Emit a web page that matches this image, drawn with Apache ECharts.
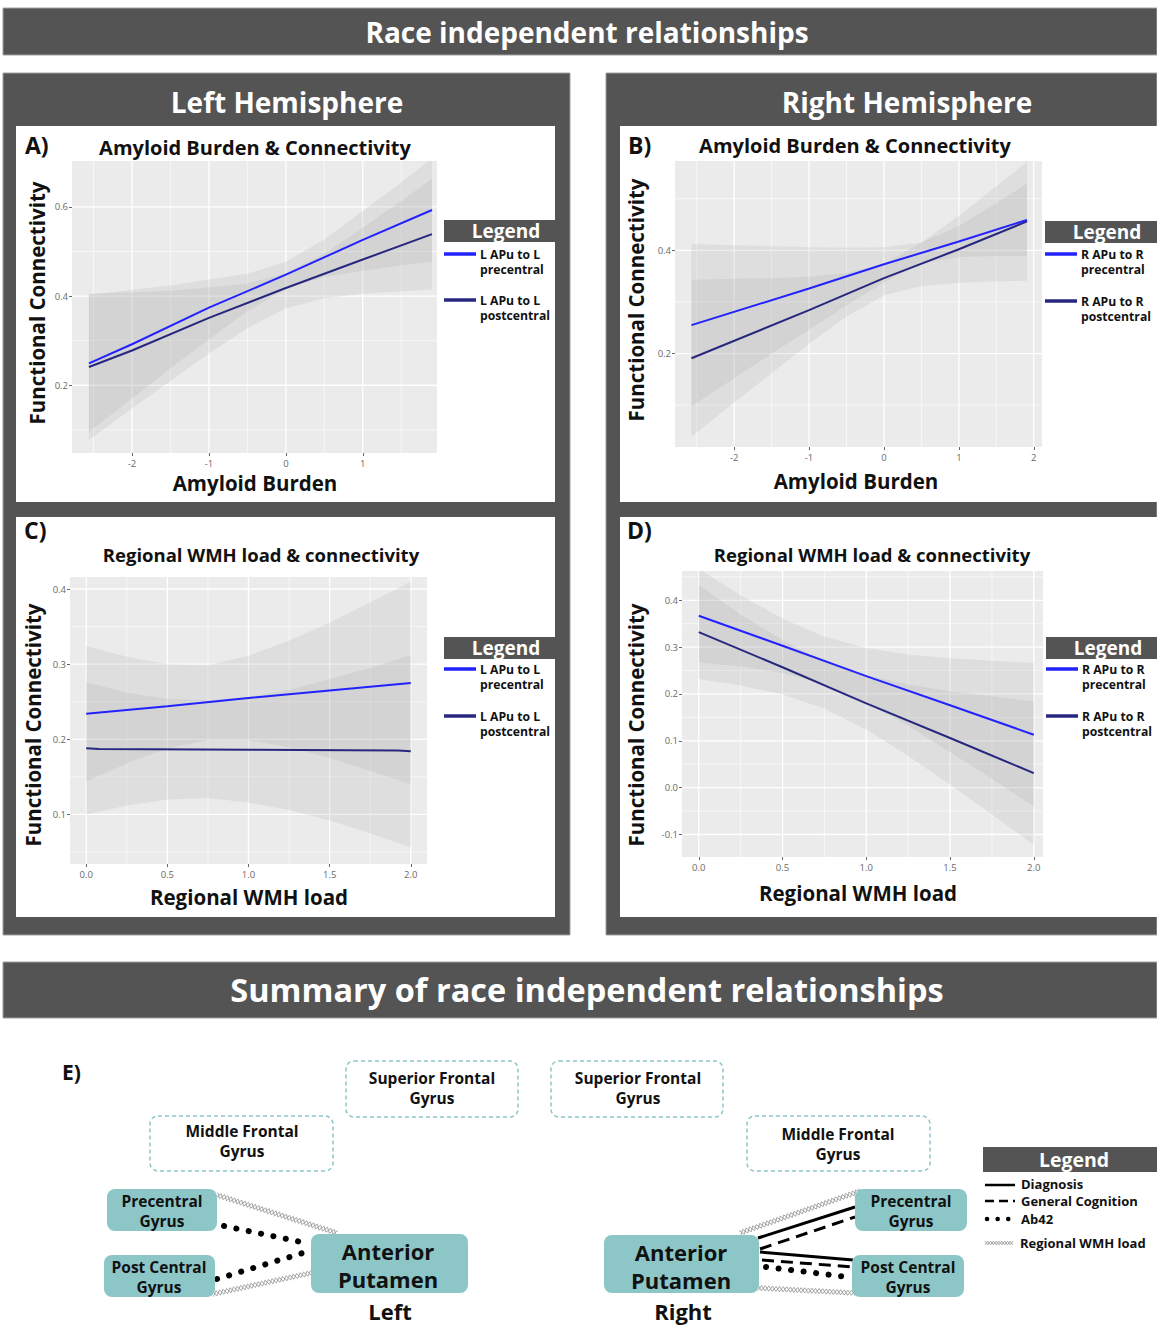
<!DOCTYPE html>
<html><head><meta charset="utf-8">
<script src="https://cdn.jsdelivr.net/npm/echarts@6/dist/echarts.min.js"></script>
<style>html,body{margin:0;padding:0;background:#fff}#c{width:1157px;height:1326px}</style>
</head><body><div id="c"></div>
<script>
// ---------------- DATA ----------------
// Panel A: Left hemisphere, amyloid burden
const aLineX = [-2.56, -2, -1, 0, 1, 1.9];
const aPre   = [0.249, 0.292, 0.374, 0.448, 0.526, 0.593];
const aPost  = [0.241, 0.278, 0.351, 0.418, 0.482, 0.539];
const aBandX = [-2.56, -2, -1.5, -1, -0.5, 0, 0.5, 1, 1.5, 1.9];
const aPreLo = [0.095, 0.170, 0.238, 0.303, 0.366, 0.417, 0.443, 0.457, 0.469, 0.477];
const aPreHi = [0.403, 0.414, 0.424, 0.437, 0.450, 0.477, 0.527, 0.591, 0.655, 0.709];
const aPostLo = [0.077, 0.148, 0.210, 0.271, 0.328, 0.372, 0.395, 0.405, 0.411, 0.415];
const aPostHi = [0.405, 0.408, 0.412, 0.419, 0.428, 0.452, 0.495, 0.553, 0.613, 0.663];
const aXTicks = [-2, -1, 0, 1];
const aYTicks = [0.2, 0.4, 0.6];
const aXMinor = [-2.5, -1.5, -0.5, 0.5, 1.5];
const aYMinor = [0.1, 0.3, 0.5];

// Panel B: Right hemisphere, amyloid burden
const bLineX = [-2.57, -1, 0, 1, 1.91];
const bPre   = [0.255, 0.326, 0.373, 0.417, 0.459];
const bPost  = [0.191, 0.284, 0.346, 0.402, 0.456];
const bBandX = [-2.57, -2, -1.5, -1, -0.5, 0, 0.5, 1, 1.5, 1.91];
const bPreLo = [0.098, 0.152, 0.200, 0.246, 0.293, 0.338, 0.375, 0.387, 0.389, 0.389];
const bPreHi = [0.412, 0.410, 0.408, 0.406, 0.405, 0.406, 0.415, 0.447, 0.491, 0.529];
const bPostLo = [0.039, 0.105, 0.162, 0.219, 0.272, 0.313, 0.331, 0.337, 0.340, 0.341];
const bPostHi = [0.343, 0.345, 0.346, 0.349, 0.356, 0.373, 0.415, 0.467, 0.524, 0.571];
const bXTicks = [-2, -1, 0, 1, 2];
const bYTicks = [0.2, 0.4];
const bXMinor = [-2.5, -1.5, -0.5, 0.5, 1.5];
const bYMinor = [0.1, 0.3, 0.5];

// Panel C: Left hemisphere, regional WMH load
const cPreX  = [0, 0.5, 1, 1.5, 2];
const cPre   = [0.234, 0.244, 0.255, 0.265, 0.275];
const cPostX = [0, 0.08, 1.0, 1.92, 2.0];
const cPost  = [0.188, 0.187, 0.186, 0.185, 0.184];
const cBandX = [0, 0.25, 0.5, 0.75, 1, 1.25, 1.5, 1.75, 2];
const cPreLo = [0.144, 0.168, 0.188, 0.199, 0.199, 0.189, 0.175, 0.158, 0.140];
const cPreHi = [0.324, 0.310, 0.300, 0.299, 0.311, 0.331, 0.355, 0.382, 0.410];
const cPostLo = [0.100, 0.112, 0.120, 0.122, 0.116, 0.106, 0.092, 0.075, 0.056];
const cPostHi = [0.276, 0.262, 0.254, 0.252, 0.256, 0.266, 0.280, 0.295, 0.312];
const cXTicks = [0, 0.5, 1, 1.5, 2];
const cYTicks = [0.1, 0.2, 0.3, 0.4];
const cXMinor = [0.25, 0.75, 1.25, 1.75];
const cYMinor = [0.05, 0.15, 0.25, 0.35];

// Panel D: Right hemisphere, regional WMH load
const dLineX = [0, 0.5, 1, 1.5, 2];
const dPre   = [0.367, 0.303, 0.238, 0.176, 0.113];
const dPost  = [0.332, 0.257, 0.180, 0.106, 0.031];
const dBandX = [0, 0.25, 0.5, 0.75, 1, 1.25, 1.5, 1.75, 2];
const dPreLo = [0.267, 0.259, 0.245, 0.222, 0.182, 0.132, 0.076, 0.019, -0.040];
const dPreHi = [0.467, 0.411, 0.361, 0.322, 0.298, 0.284, 0.276, 0.271, 0.266];
const dPostLo = [0.232, 0.218, 0.199, 0.169, 0.124, 0.068, 0.006, -0.057, -0.122];
const dPostHi = [0.432, 0.370, 0.315, 0.269, 0.240, 0.220, 0.206, 0.195, 0.184];
const dXTicks = [0, 0.5, 1, 1.5, 2];
const dYTicks = [-0.1, 0, 0.1, 0.2, 0.3, 0.4];
const dXMinor = [0.25, 0.75, 1.25, 1.75];
const dYMinor = [-0.05, 0.05, 0.15, 0.25, 0.35, 0.45];

// Legend labels
const leftLegend  = [['L APu to L', 'precentral'], ['L APu to L', 'postcentral']];
const rightLegend = [['R APu to R', 'precentral'], ['R APu to R', 'postcentral']];
const summaryLegend = ['Diagnosis', 'General Cognition', 'Ab42', 'Regional WMH load'];

// ---------------- STYLE ----------------
const FONT = '"Open Sans", Lato, sans-serif';
const BLUE = '#2222ff', NAVY = '#27277f';
const DARK = '#545454', TEAL = '#8cc6c7', INK = '#111';
const BAND = 'rgba(150,150,150,0.15)';

const chart = echarts.init(document.getElementById('c'), null, {renderer: 'svg', width: 1157, height: 1326});

const grids = [], xAxes = [], yAxes = [], series = [];
function zip(x, y) { return x.map((v, i) => [v, y[i]]); }

function addPanel(p) {
  const i = grids.length;
  grids.push(Object.assign({show: true, backgroundColor: '#EBEBEB', borderWidth: 0, z: 1}, p.grid));
  const lab = {color: '#6a6a6a', fontSize: 9.5, fontFamily: FONT};
  xAxes.push({type: 'value', gridIndex: i, min: p.xMin, max: p.xMax, z: 3,
    axisLine: {show: false, onZero: false},
    axisTick: {show: true, length: 3, lineStyle: {color: '#666'}, customValues: p.xTicks},
    axisLabel: Object.assign({customValues: p.xTicks, margin: 5, formatter: p.fx}, lab),
    splitLine: {show: false}});
  yAxes.push({type: 'value', gridIndex: i, min: p.yMin, max: p.yMax, z: 3,
    axisLine: {show: false, onZero: false},
    axisTick: {show: true, length: 3, lineStyle: {color: '#666'}, customValues: p.yTicks},
    axisLabel: Object.assign({customValues: p.yTicks, margin: 4, formatter: p.fy}, lab),
    splitLine: {show: false}});
  // grid lines (major at ticks, minor between)
  const gl = [];
  p.xTicks.forEach(v => gl.push([v, 0, 1]));
  p.xMinor.forEach(v => gl.push([v, 0, 0]));
  p.yTicks.forEach(v => gl.push([v, 1, 1]));
  p.yMinor.forEach(v => gl.push([v, 1, 0]));
  series.push({type: 'custom', xAxisIndex: i, yAxisIndex: i, z: 2, silent: true, clip: true,
    data: gl,
    renderItem(params, api) {
      const cs = params.coordSys, v = api.value(0), dir = api.value(1), maj = api.value(2);
      let shape;
      if (dir === 0) { const x = api.coord([v, p.yMin])[0]; shape = {x1: x, y1: cs.y, x2: x, y2: cs.y + cs.height}; }
      else { const y = api.coord([p.xMin, v])[1]; shape = {x1: cs.x, y1: y, x2: cs.x + cs.width, y2: y}; }
      return {type: 'line', shape, style: {stroke: '#fff', lineWidth: maj ? 1.3 : 0.6}};
    }});
  // confidence bands
  [[p.preLo, p.preHi], [p.postLo, p.postHi]].forEach(([lo, hi]) => {
    series.push({type: 'custom', xAxisIndex: i, yAxisIndex: i, z: 3, silent: true, clip: true,
      data: p.bandX.map((x, k) => [x, lo[k], hi[k]]),
      renderItem(params, api) {
        if (params.dataIndexInside !== 0) return null;
        const n = params.dataInsideLength, pts = [];
        for (let k = 0; k < n; k++) pts.push(api.coord([api.value(0, k), api.value(2, k)]));
        for (let k = n - 1; k >= 0; k--) pts.push(api.coord([api.value(0, k), api.value(1, k)]));
        return {type: 'polygon', shape: {points: pts}, style: {fill: BAND}};
      }});
  });
  series.push({type: 'line', xAxisIndex: i, yAxisIndex: i, z: 4, silent: true, showSymbol: false, symbol: 'none',
    data: zip(p.postX, p.post), lineStyle: {color: NAVY, width: 2}});
  series.push({type: 'line', xAxisIndex: i, yAxisIndex: i, z: 5, silent: true, showSymbol: false, symbol: 'none',
    data: zip(p.preX, p.pre), lineStyle: {color: BLUE, width: 2}});
}

const f0 = v => String(v);
const f1 = v => v.toFixed(1);

addPanel({grid: {left: 72, top: 161, width: 365, height: 292}, xMin: -2.78, xMax: 1.965, yMin: 0.048, yMax: 0.703,
  xTicks: aXTicks, yTicks: aYTicks, xMinor: aXMinor, yMinor: aYMinor, fx: f0, fy: f1,
  bandX: aBandX, preLo: aPreLo, preHi: aPreHi, postLo: aPostLo, postHi: aPostHi,
  preX: aLineX, pre: aPre, postX: aLineX, post: aPost});
addPanel({grid: {left: 675, top: 161, width: 367, height: 286}, xMin: -2.79, xMax: 2.11, yMin: 0.019, yMax: 0.573,
  xTicks: bXTicks, yTicks: bYTicks, xMinor: bXMinor, yMinor: bYMinor, fx: f0, fy: f1,
  bandX: bBandX, preLo: bPreLo, preHi: bPreHi, postLo: bPostLo, postHi: bPostHi,
  preX: bLineX, pre: bPre, postX: bLineX, post: bPost});
addPanel({grid: {left: 70, top: 577, width: 357, height: 287}, xMin: -0.1, xMax: 2.1, yMin: 0.034, yMax: 0.416,
  xTicks: cXTicks, yTicks: cYTicks, xMinor: cXMinor, yMinor: cYMinor, fx: f1, fy: f1,
  bandX: cBandX, preLo: cPreLo, preHi: cPreHi, postLo: cPostLo, postHi: cPostHi,
  preX: cPreX, pre: cPre, postX: cPostX, post: cPost});
addPanel({grid: {left: 682, top: 571, width: 361, height: 286}, xMin: -0.1, xMax: 2.055, yMin: -0.148, yMax: 0.4625,
  xTicks: dXTicks, yTicks: dYTicks, xMinor: dXMinor, yMinor: dYMinor, fx: f1, fy: f1,
  bandX: dBandX, preLo: dPreLo, preHi: dPreHi, postLo: dPostLo, postHi: dPostHi,
  preX: dLineX, pre: dPre, postX: dLineX, post: dPost});

// ---------------- GRAPHIC (layout, titles, diagram) ----------------
const G = [];
function R(x, y, w, h, fill, extra) { G.push(Object.assign({type: 'rect', shape: {x, y, width: w, height: h, r: (extra && extra.r) || 0}, style: {fill, stroke: (extra && extra.stroke) || null, lineWidth: (extra && extra.lw) || 0, lineDash: (extra && extra.dash) || null}, silent: true})); }
function T(text, x, y, size, opt) {
  opt = opt || {};
  G.push({type: 'text', x, y, rotation: opt.rot || 0, silent: true,
    style: {text, fill: opt.color || INK, font: `bold ${size}px ${FONT}`, align: opt.align || 'center', verticalAlign: 'middle'}});
}
function Ln(x1, y1, x2, y2, stroke, lw, dash, cap) { G.push({type: 'line', silent: true, shape: {x1, y1, x2, y2}, style: {stroke, lineWidth: lw, lineDash: dash || null, lineCap: cap || 'butt'}}); }
function chain(x1, y1, x2, y2, amp, step) {
  const dx = x2 - x1, dy = y2 - y1, L = Math.hypot(dx, dy), ux = dx / L, uy = dy / L, nx = -uy, ny = ux;
  const n = Math.max(2, Math.round(L / step)), a = [], b = [];
  for (let i = 0; i <= n; i++) {
    const s = i * L / n, sg = (i % 2 ? 1 : -1) * amp;
    a.push([x1 + ux * s + nx * sg, y1 + uy * s + ny * sg]);
    b.push([x1 + ux * s - nx * sg, y1 + uy * s - ny * sg]);
  }
  [a, b].forEach(pts => G.push({type: 'polyline', silent: true, shape: {points: pts}, style: {stroke: '#9a9a9a', lineWidth: 0.9, fill: null}}));
}

// top banner
R(3, 8, 1154, 47, DARK, {stroke: '#a0a0a0', lw: 1});
T('Race independent relationships', 587, 32, 28, {color: '#fff'});
// hemisphere panels
R(3, 73, 567, 862, DARK, {stroke: '#a0a0a0', lw: 1});
R(606, 73, 551, 862, DARK, {stroke: '#a0a0a0', lw: 1});
T('Left Hemisphere', 287, 102, 28, {color: '#fff'});
T('Right Hemisphere', 907, 102, 28, {color: '#fff'});
R(16, 126, 539, 376, '#fff');
R(16, 517, 539, 400, '#fff');
R(620, 126, 537, 376, '#fff');
R(620, 517, 537, 400, '#fff');

// panel texts
T('A)', 25, 145, 23, {align: 'left'});
T('Amyloid Burden & Connectivity', 255, 147, 20);
T('Functional Connectivity', 37, 303, 20.5, {rot: Math.PI / 2});
T('Amyloid Burden', 255, 483, 20.5);
T('B)', 628, 145, 23, {align: 'left'});
T('Amyloid Burden & Connectivity', 855, 145, 20);
T('Functional Connectivity', 636, 300, 20.5, {rot: Math.PI / 2});
T('Amyloid Burden', 856, 481, 20.5);
T('C)', 24, 530, 23, {align: 'left'});
T('Regional WMH load & connectivity', 261, 554, 18.5);
T('Functional Connectivity', 33, 725, 20.5, {rot: Math.PI / 2});
T('Regional WMH load', 249, 897, 20.5);
T('D)', 627, 530, 23, {align: 'left'});
T('Regional WMH load & connectivity', 872, 554, 18.5);
T('Functional Connectivity', 636, 725, 20.5, {rot: Math.PI / 2});
T('Regional WMH load', 858, 893, 20.5);

function plotLegend(x0, hy, w, y1, y2, labels) {
  R(x0, hy, w, 22, DARK);
  T('Legend', x0 + 62, hy + 11, 19, {color: '#fff'});
  Ln(x0, y1, x0 + 32, y1, BLUE, 3.5);
  Ln(x0, y2, x0 + 32, y2, NAVY, 3.5);
  T(labels[0][0], x0 + 36, y1, 12.2, {align: 'left'});
  T(labels[0][1], x0 + 36, y1 + 15.5, 12.2, {align: 'left'});
  T(labels[1][0], x0 + 36, y2, 12.2, {align: 'left'});
  T(labels[1][1], x0 + 36, y2 + 15.5, 12.2, {align: 'left'});
}
plotLegend(444, 220, 111, 254, 300, leftLegend);
plotLegend(1045, 221, 112, 254, 301, rightLegend);
plotLegend(444, 637, 111, 669, 716, leftLegend);
plotLegend(1046, 637, 111, 669, 716, rightLegend);

// summary banner
R(3, 962, 1154, 56, DARK, {stroke: '#a0a0a0', lw: 1});
T('Summary of race independent relationships', 587, 989, 32.5, {color: '#fff'});

// Diagram E
T('E)', 62, 1072, 21, {align: 'left'});
// connections (left)
chain(217, 1195, 337, 1233, 2.6, 3.6);
Ln(224, 1226, 306, 1243, '#000', 6, [0.1, 12.5], 'round');
Ln(217, 1279, 306, 1252, '#000', 6, [0.1, 12.5], 'round');
chain(213, 1294, 311, 1273, 2.6, 3.6);
// connections (right)
chain(740, 1233, 860, 1191, 2.6, 3.6);
Ln(758, 1238, 855, 1207, '#000', 3);
Ln(760, 1249, 855, 1217, '#000', 3, [12, 7]);
Ln(760, 1252, 853, 1260, '#000', 3);
Ln(762, 1260, 853, 1267, '#000', 3, [12, 7]);
Ln(766, 1267, 848, 1277, '#000', 6, [0.1, 12.5], 'round');
chain(758, 1288, 855, 1293, 2.6, 3.6);

function dashBox(x, y, w, h, l1, l2, cx, ty) {
  R(x, y, w, h, '#fff', {stroke: TEAL, lw: 1.5, dash: [4, 3], r: 8});
  T(l1, cx, ty, 15.5); T(l2, cx, ty + 20, 15.5);
}
function fillBox(x, y, w, h, l1, l2, cx, ty, size, gap) {
  R(x, y, w, h, TEAL, {r: 8});
  T(l1, cx, ty, size); T(l2, cx, ty + gap, size);
}
dashBox(346, 1061, 172, 56, 'Superior Frontal', 'Gyrus', 432, 1078);
dashBox(551, 1061, 172, 56, 'Superior Frontal', 'Gyrus', 638, 1078);
dashBox(150, 1116, 183, 55, 'Middle Frontal', 'Gyrus', 242, 1131);
dashBox(747, 1116, 183, 55, 'Middle Frontal', 'Gyrus', 838, 1134);
fillBox(107, 1189, 110, 42, 'Precentral', 'Gyrus', 162, 1201, 15.5, 20);
fillBox(104, 1255, 111, 42, 'Post Central', 'Gyrus', 159, 1267, 15.5, 20);
fillBox(311, 1234, 157, 59, 'Anterior', 'Putamen', 388, 1251, 22, 28);
fillBox(855, 1189, 112, 42, 'Precentral', 'Gyrus', 911, 1201, 15.5, 20);
fillBox(852, 1255, 112, 42, 'Post Central', 'Gyrus', 908, 1267, 15.5, 20);
fillBox(604, 1235, 155, 58, 'Anterior', 'Putamen', 681, 1252, 22, 28);
T('Left', 390, 1311, 22);
T('Right', 683, 1311, 22);

// summary legend
R(983, 1147, 174, 25, DARK);
T('Legend', 1074, 1159, 19.5, {color: '#fff'});
Ln(985, 1185, 1015, 1185, '#000', 2.5);
Ln(985, 1201, 1015, 1201, '#000', 2.5, [9, 5]);
Ln(987, 1219, 1013, 1219, '#000', 4.5, [0.1, 10.5], 'round');
chain(985, 1243, 1013, 1243, 1.8, 2.8);
T(summaryLegend[0], 1021, 1184, 13, {align: 'left'});
T(summaryLegend[1], 1021, 1201, 13, {align: 'left'});
T(summaryLegend[2], 1021, 1219, 13, {align: 'left'});
T(summaryLegend[3], 1020, 1243, 13, {align: 'left'});

chart.setOption({
  animation: false,
  backgroundColor: '#fff',
  graphic: {elements: G},
  grid: grids, xAxis: xAxes, yAxis: yAxes, series
});
</script></body></html>
